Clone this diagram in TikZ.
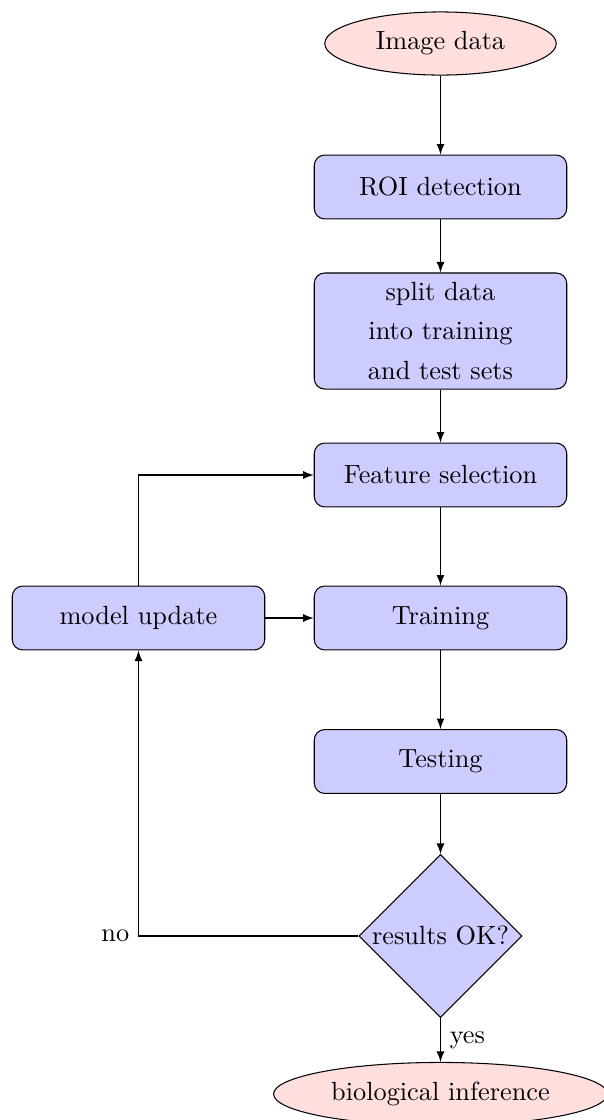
\documentclass[tikz,border=0pt]{standalone}
\usepackage{amssymb}
\usepackage{amsmath}
\usepackage{tikz}
\usetikzlibrary{shapes.geometric}

\tikzset{
    block/.style={rectangle, draw, fill=blue!20, rounded corners,
        minimum width=96pt, minimum height=24.3pt, align=center},
    cloud/.style={ellipse, draw, fill=red!13, minimum height=24pt},
    decision/.style={diamond, draw, fill=blue!20, aspect=1,
        minimum width=62pt, minimum height=62pt},
    line/.style={draw, -latex}
}

\begin{document}
\begin{tikzpicture}[x=0.3802pt,y=-0.3802pt]
            \useasboundingbox (0,0) rectangle (603,1120);
            % main column
            \node[cloud, minimum width=88pt] (init) at (440.5,43.5) {Image data};
            \node[block] (roi) at (440.5,187) {ROI detection};
            \node[block] (split) at (440.5,331) {split data\\[3.2pt] into training\\[3.2pt] and test sets};
            \node[block] (feature) at (440.5,475) {Feature selection};
            \node[block] (train) at (440.5,618) {Training};
            \node[block] (test) at (440.5,761.5) {Testing};
            \node[decision] (decide) at (440.5,936) {\makebox[0pt]{results OK?}};
            \node[cloud] (bio) at (440.5,1094) {biological inference};
            % loop back
            \node[block] (update) at (138.5,618) {model update};
            \path[line] (init) -- (roi);
            \path[line] (roi) -- (split);
            \path[line] (split) -- (feature);
            \path[line] (feature) -- (train);
            \path[line] (train) -- (test);
            \path[line] (test) -- (decide);
            \path[line] (decide) -- node[right] {yes} (bio);
            \path[line] (decide) -| node[pos=0.5, left] {no} (update);
            \path[line] (update) -- (train);
            \path[line] (update) |- (feature);
        \end{tikzpicture}
\end{document}
